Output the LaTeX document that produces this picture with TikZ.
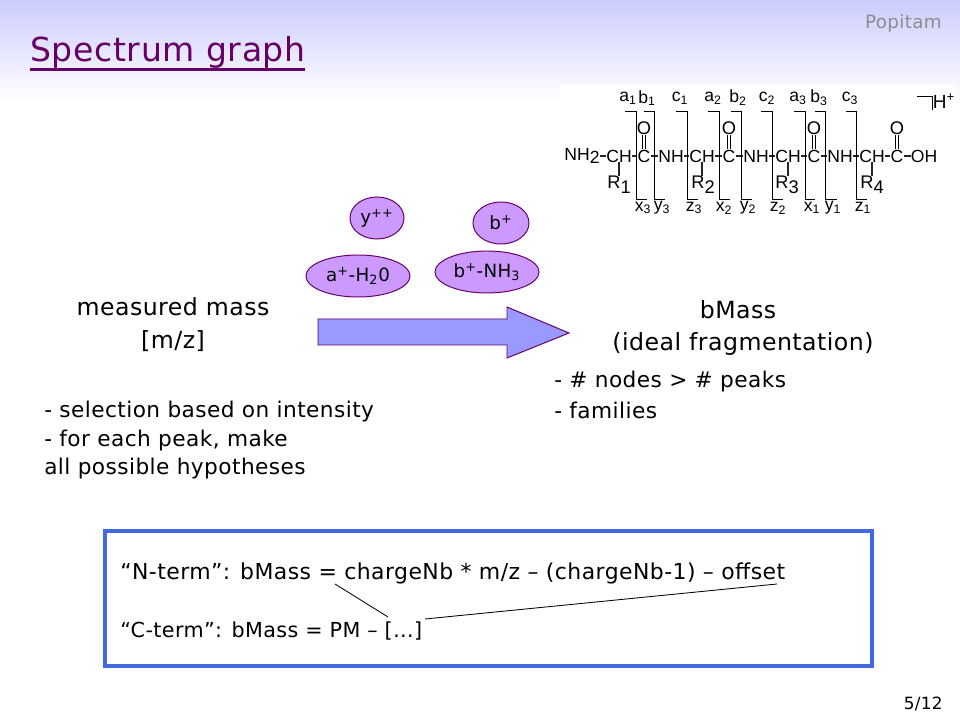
\documentclass[tikz,border=0pt]{standalone}
\usepackage{fontspec}
\setmainfont[LetterSpace=2]{DejaVu Sans}
\newfontfamily\chemfont{Liberation Sans}
\usetikzlibrary{shapes.geometric}
\definecolor{plum}{HTML}{660066}
\definecolor{lilac}{HTML}{CC99FF}
\definecolor{periwinkle}{HTML}{9999FF}
\definecolor{headblue}{HTML}{CCCCFF}
\definecolor{boxblue}{HTML}{4169E1}
\tikzset{
    txt/.style={inner sep=0pt,font=\fontsize{16.8}{20}\selectfont},
    line/.style={txt,anchor=west,font=\fontsize{15.4}{18}\selectfont},
    ion/.style={ellipse,draw=plum,fill=lilac,line width=0.7pt,inner sep=0pt,minimum height=1.05cm,font=\fontsize{13}{15}\selectfont},
    chem/.style={inner sep=0pt,font=\chemfont\fontsize{12.5}{15}\selectfont},
    frag/.style={inner sep=0pt,font=\chemfont\fontsize{12.5}{15}\selectfont},
    bond/.style={line width=0.75pt,black!85},
    tie/.style={line width=0.6pt},
}
\begin{document}
\begin{tikzpicture}[x=0.025cm,y=-0.025cm]
            \useasboundingbox (0,0) rectangle (960,720);
            % slide background
            \fill[top color=headblue,bottom color=white] (0,0) rectangle (960,100);
            \fill[white] (560,85) rectangle (955,225);
            % heading
            \node[txt,anchor=base west,text=plum,font=\fontsize{23.5}{28}\selectfont] (title) at (30,62) {Spectrum graph};
            \draw[plum,line width=1.7pt] (30,69.5) -- (305,69.5);
            \node[txt,anchor=east,text=black!45,font=\fontsize{13}{15}\selectfont] (popitam) at (942,23) {Popitam};
            \node[txt,anchor=east,font=\fontsize{12}{14}\selectfont] (page) at (943,704) {5/12};
            % peptide backbone
            \foreach \n/\x/\t in {a/582/NH\raisebox{-2.5pt}{2},b/619/CH,c/644/C,d/671/NH,e/702/CH,f/729/C,g/756/NH,h/788/CH,i/814/C,j/840/NH,k/872/CH,l/897/C,m/924/OH}
                \node[chem] (\n) at (\x,156) {\t};
            \foreach \s/\e in {a/b,b/c,c/d,d/e,e/f,f/g,g/h,h/i,i/j,j/k,k/l,l/m}
                \draw[bond] (\s) -- (\e);
            % side chains
            \foreach \n/\c/\x/\t in {r1/b/619/1,r2/e/703/2,r3/h/787/3,r4/k/872/4} {
                \node[chem,anchor=base,font=\chemfont\fontsize{13}{16}\selectfont] (\n) at (\x,189) {R\raisebox{-3pt}{\t}};
                \draw[bond] (\c) -- (\c |- \n.north);
            }
            % carbonyls
            \foreach \n/\c in {o1/c,o2/f,o3/i,o4/l} {
                \node[chem,font=\chemfont\fontsize{13}{16}\selectfont] (\n) at (\c |- 0,128) {O};
                \draw[line width=0.6pt,double,double distance=1.2pt] (\c) -- (\n);
            }
            % fragment brackets
            \foreach \l/\v/\r/\xl/\t/\u/\yl/\b/\i in {625/636/647/628/a/1/643/x/3,644/654/665/647/b/1/662/y/3,676/687/698/680/c/1/694/z/3,708/719/730/713/a/2/724/x/2,731/741/752/738/b/2/748/y/2,761/772/783/767/c/2/778/z/2,794/805/815/798/a/3/812/x/1,815/825/837/819/b/3/833/y/1,846/856/867/850/c/3/863/z/1} {
                \node[frag] (up\t\u) at (\xl,98) {\t\textsubscript{\u}};
                \node[frag] (lo\b\i) at (\yl,208) {\b\textsubscript{\i}};
                \draw[tie] (\l,111) -- (\v,111) -- (\v,199) -- (\r,199);
            }
            \node[frag,font=\chemfont\fontsize{13.5}{17}\selectfont] (hplus) at (944,101) {H\textsuperscript{+}};
            \draw[tie] (917,96) -- (932,96) -- (932,110);
            % ions over the arrow
            \node[ion,minimum width=1.35cm] (yion) at (377,218) {y\textsuperscript{++}};
            \node[ion,minimum width=1.4cm] (bion) at (501,223) {b\textsuperscript{+}};
            \node[ion,minimum width=2.6cm] (aion) at (358,276) {a\textsuperscript{+}-H\textsubscript{2}0};
            \node[ion,minimum width=2.6cm] (nion) at (487,272) {b\textsuperscript{+}-NH\textsubscript{3}};
            % the arrow
            \draw[plum,fill=periwinkle,line width=0.7pt] (318,319) -- (507,319) -- (507,307) -- (569,333) -- (507,358) -- (507,345) -- (318,345) -- cycle;
            % left and right texts
            \node[txt] (mass) at (173,307) {measured mass};
            \node[txt] (mz) at (173,341) {[m/z]};
            \node[txt] (bmass) at (738,310) {bMass};
            \node[txt] (ideal) at (743,344) {(ideal fragmentation)};
            \foreach \n/\x/\y/\t in {s1/44/412/- selection based on intensity,s2/44/441/{- for each peak, make},s3/44/469/all possible hypotheses,s4/554/382/- \# nodes > \# peaks,s5/554/410/- families}
                \node[line] (\n) at (\x,\y) {\t};
            % formula box
            \draw[boxblue,line width=2.2pt] (105,531) rectangle (872,666);
            \node[line,font=\fontsize{15.6}{18}\selectfont] (nterm) at (120,573) {“N-term”: bMass = chargeNb * m/z – (chargeNb-1) – offset};
            \node[line,font=\fontsize{14.7}{18}\selectfont] (cterm) at (120,631) {“C-term”: bMass = PM – […]};
            \coordinate (charge) at (335,584);
            \coordinate (offset) at (777,584);
            \coordinate (dotsa) at (388,617);
            \coordinate (dotsb) at (425,619);
            \draw[tie] (charge) -- (dotsa);
            \draw[tie] (dotsb) -- (offset);
\end{tikzpicture}
\end{document}
